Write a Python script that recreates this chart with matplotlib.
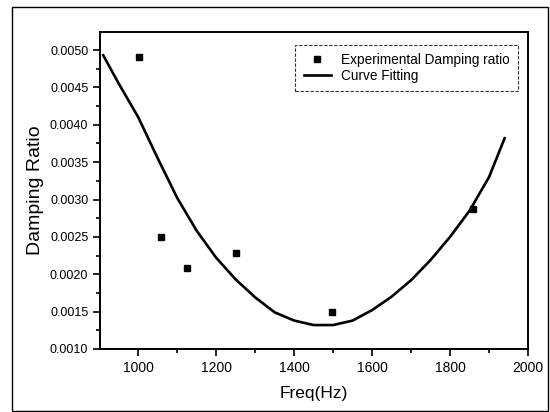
import matplotlib
matplotlib.use("Agg")
import matplotlib.pyplot as plt
from matplotlib.ticker import MultipleLocator, FormatStrFormatter
from matplotlib.patches import Rectangle

plt.rcParams['font.family'] = ['Liberation Sans', 'DejaVu Sans']

exp_freq = [1003, 1057, 1126, 1250, 1498, 1859]
exp_damp = [0.00491, 0.00250, 0.00209, 0.00229, 0.00150, 0.00287]

fit_freq = [910, 950, 1000, 1050, 1100, 1150, 1200, 1250, 1300, 1350, 1400,
            1450, 1500, 1550, 1600, 1650, 1700, 1750, 1800, 1850, 1900, 1940]
fit_damp = [0.00493, 0.00455, 0.00410, 0.00355, 0.00302, 0.00258, 0.00222,
            0.00193, 0.00169, 0.00149, 0.00138, 0.00132, 0.00132, 0.00138,
            0.00152, 0.00170, 0.00192, 0.00219, 0.00250, 0.00285, 0.00330,
            0.00382]

fig = plt.figure(figsize=(5.5, 4.12), dpi=100)
ax = fig.add_axes([0.182, 0.153, 0.778, 0.769])

ax.plot(exp_freq, exp_damp, 's', color='black', markersize=5,
        label='Experimental Damping ratio', zorder=3)
ax.plot(fit_freq, fit_damp, '-', color='black', linewidth=1.9,
        label='Curve Fitting')

ax.set_xlim(902, 2000)
ax.set_ylim(0.0010, 0.00524)
ax.xaxis.set_major_locator(MultipleLocator(200))
ax.xaxis.set_minor_locator(MultipleLocator(100))
ax.yaxis.set_major_locator(MultipleLocator(0.0005))
ax.yaxis.set_minor_locator(MultipleLocator(0.00025))
ax.yaxis.set_major_formatter(FormatStrFormatter('%.4f'))

ax.tick_params(which='both', direction='out', top=False, right=False, width=1.2)
ax.tick_params(axis='x', labelsize=10)
ax.tick_params(axis='y', labelsize=9)
ax.tick_params(which='major', length=5)
ax.tick_params(which='minor', length=3)
for s in ax.spines.values():
    s.set_linewidth(1.4)

ax.set_xlabel('Freq(Hz)', fontsize=12.5, labelpad=8)
ax.set_ylabel('Damping Ratio', fontsize=14, labelpad=4)

leg = ax.legend(loc='upper right', bbox_to_anchor=(518 / 550, 1 - 45 / 412),
                bbox_transform=fig.transFigure, borderaxespad=0,
                fontsize=9.8, frameon=True, fancybox=False,
                handlelength=2.0, handletextpad=0.75,
                borderpad=0.6, labelspacing=0.15)
leg.get_frame().set_edgecolor('black')
leg.get_frame().set_linestyle((0, (3, 1.5)))
leg.get_frame().set_linewidth(0.8)

frame = Rectangle((12 / 550, 1 / 412), 536 / 550, 404 / 412,
                  transform=fig.transFigure, fill=False, edgecolor='black',
                  linewidth=1.0)
fig.patches.append(frame)

fig.savefig('out.png', dpi=100)
